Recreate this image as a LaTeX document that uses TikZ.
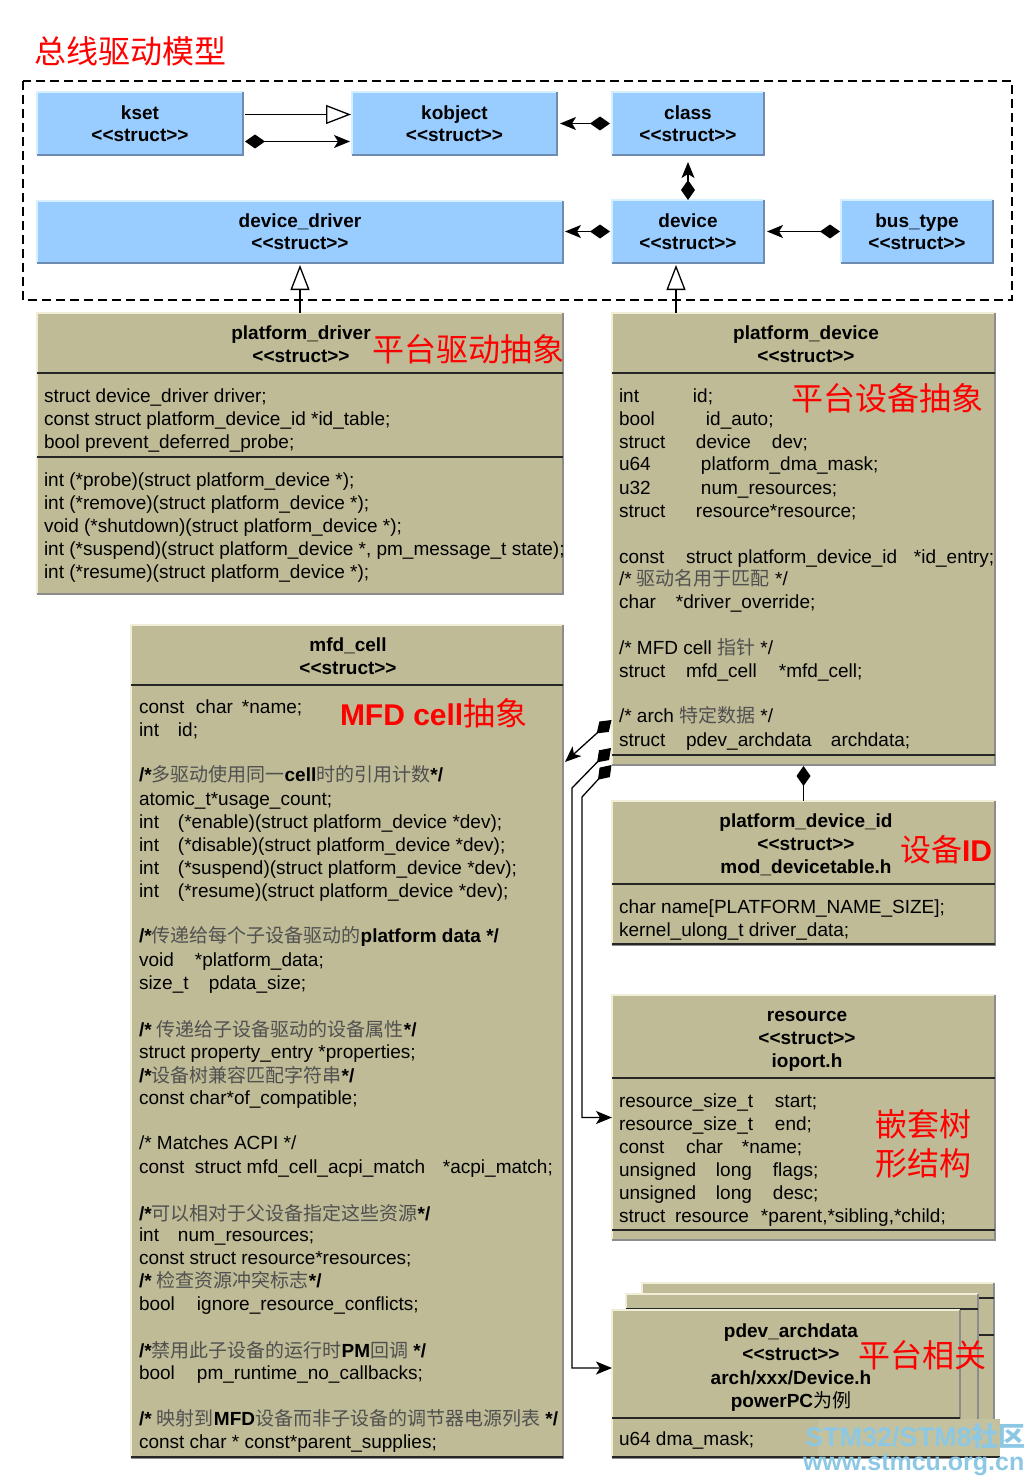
\documentclass[tikz,border=0pt]{standalone}
\usepackage{fontspec}
\setmainfont{Liberation Sans}
\newfontfamily\cjk{Noto Sans CJK SC}
\usetikzlibrary{arrows.meta}
\definecolor{kh}{RGB}{191,187,150}
\definecolor{bl}{RGB}{153,204,255}
\definecolor{cg}{RGB}{80,80,80}
\definecolor{wmc}{RGB}{140,200,228}
\newcommand\cz[1]{{\cjk\mdseries\fontsize{19}{23}\selectfont\color{cg}#1}}
\newcommand\mycol[2]{\makebox[#1pt][l]{#2}}
\newcommand\stt{<\kern0pt<struct>\kern0pt>}
\newcommand\bevel[3]{\draw[#2] (#1.south west) -- (#1.north west) -- (#1.north east); \draw[#3] (#1.north east) -- (#1.south east) -- (#1.south west);}
\newcommand\bbev[1]{\bevel{#1}{bhi}{blo}}
\newcommand\kbev[1]{\bevel{#1}{khi}{klo}}
\tikzset{
 every node/.style={inner sep=0pt, outer sep=0pt},
 bbox/.style={rectangle, fill=bl, align=center, font=\bfseries\fontsize{19}{22}\selectfont},
 kbox/.style={rectangle, fill=kh, anchor=north west},
 bhi/.style={line width=1.2pt, draw={rgb,255:red,215;green,240;blue,255}},
 blo/.style={line width=1.2pt, draw={rgb,255:red,110;green,140;blue,175}},
 khi/.style={line width=1.2pt, draw={rgb,255:red,240;green,238;blue,215}},
 klo/.style={line width=1.2pt, draw={rgb,255:red,140;green,140;blue,140}},
 sepl/.style={line width=1.6pt, draw=black!85},
 hd/.style={anchor=base, font=\bfseries\fontsize{19}{23}\selectfont},
 tx/.style={anchor=base west, font=\fontsize{19}{23}\selectfont},
 rl/.style={text=red, font=\cjk\fontsize{32}{36}\selectfont},
 conn/.style={line width=1.3pt},
 comp/.style={conn, {Diamond[length=20pt,width=14pt]}-{Stealth[length=16pt,width=13pt,inset=4pt]}},
 compn/.style={conn, {Diamond[length=20pt,width=14pt]}-},
 inh/.style={conn, -{Triangle[length=25pt,width=19pt,fill=white]}},
 frame/.style={line width=1.3pt, dash pattern=on 9pt off 5pt},
}
\begin{document}
\begin{tikzpicture}[x=1pt,y=-1pt]
\useasboundingbox (0,0) rectangle (1035,1482);

% title
\node[rl] (title) at (130,51) {总线驱动模型};

% dashed frame
\draw[frame] (23,81) rectangle (1012,300);

% blue boxes
\node[bbox, minimum width=206pt, minimum height=63pt] (kset) at (140,123.5) {kset\\\stt};
\node[bbox, minimum width=205pt, minimum height=63pt] (kobject) at (454.5,123.5) {kobject\\\stt};
\node[bbox, minimum width=152pt, minimum height=63pt] (class) at (688,123.5) {class\\\stt};
\node[bbox, minimum width=526pt, minimum height=62pt] (devdrv) at (300,232) {device\_driver\\\stt};
\node[bbox, minimum width=152pt, minimum height=63pt] (device) at (688,231.5) {device\\\stt};
\node[bbox, minimum width=152pt, minimum height=63pt] (bus) at (917,231.5) {bus\_type\\\stt};
\bbev{kset}\bbev{kobject}\bbev{class}\bbev{devdrv}\bbev{device}\bbev{bus}

% ---------- platform_driver
\node[kbox, minimum width=526pt, minimum height=281pt] (pdrv) at (37,313) {};
\kbev{pdrv}
\draw[sepl] (37,373) -- (563,373);
\draw[sepl] (37,457) -- (563,457);
\node[hd] (pdrvT) at (301,339) {platform\_driver};
\node[hd] (pdrvS) at (301,362) {\stt};
\node[rl] (pdrvR) at (468,349) {平台驱动抽象};
\node[tx] (pdrv1) at (44,402) {struct device\_driver driver;};
\node[tx] (pdrv2) at (44,425) {const struct platform\_device\_id *id\_table;};
\node[tx] (pdrv3) at (44,448) {bool prevent\_deferred\_probe;};
\node[tx] (pdrv4) at (44,486) {int (*probe)(struct platform\_device *);};
\node[tx] (pdrv5) at (44,509) {int (*remove)(struct platform\_device *);};
\node[tx] (pdrv6) at (44,532) {void (*shutdown)(struct platform\_device *);};
\node[tx] (pdrv7) at (44,555) {int (*suspend)(struct platform\_device *, pm\_message\_t state);};
\node[tx] (pdrv8) at (44,578) {int (*resume)(struct platform\_device *);};

% ---------- platform_device
\node[kbox, minimum width=383pt, minimum height=452pt] (pdev) at (612,313) {};
\kbev{pdev}
\draw[sepl] (612,373) -- (995,373);
\draw[sepl] (612,755) -- (995,755);
\node[hd] (pdevT) at (806,339) {platform\_device};
\node[hd] (pdevS) at (806,362) {\stt};
\node[rl] (pdevR) at (887,398) {平台设备抽象};
\node[tx] (pdev1) at (619,402) {\mycol{74}{int}id;};
\node[tx] (pdev2) at (619,425) {\mycol{87}{bool}id\_auto;};
\node[tx] (pdev3) at (619,448) {\mycol{77}{struct}\mycol{76}{device}dev;};
\node[tx] (pdev4) at (619,470) {\mycol{82}{u64}platform\_dma\_mask;};
\node[tx] (pdev5) at (619,494) {\mycol{82}{u32}num\_resources;};
\node[tx] (pdev6) at (619,517) {\mycol{77}{struct}resource*resource;};
\node[tx] (pdev7) at (619,563) {\mycol{67}{const}\mycol{228}{struct platform\_device\_id}*id\_entry;};
\node[tx] (pdev8) at (619,585) {/* \cz{驱动名用于匹配} */};
\node[tx] (pdev9) at (619,608) {\mycol{57}{char}*driver\_override;};
\node[tx] (pdev10) at (619,654) {/* MFD cell \cz{指针} */};
\node[tx] (pdev11) at (619,677) {\mycol{67}{struct}\mycol{93}{mfd\_cell}*mfd\_cell;};
\node[tx] (pdev12) at (619,722) {/* arch \cz{特定数据} */};
\node[tx] (pdev13) at (619,746) {\mycol{67}{struct}\mycol{145}{pdev\_archdata}archdata;};

% ---------- mfd_cell
\node[kbox, minimum width=432pt, minimum height=833pt] (mfd) at (131,625) {};
\kbev{mfd}
\draw[sepl] (131,685) -- (563,685);
\draw[sepl] (131,1457) -- (563,1457);
\node[hd] (mfdT) at (348,651) {mfd\_cell};
\node[hd] (mfdS) at (348,674) {\stt};
\node[anchor=base west, text=red] (mfdR) at (340,725) {{\bfseries\fontsize{30}{34}\selectfont MFD cell}{\cjk\fontsize{32}{34}\selectfont 抽象}};
\node[tx] (mfd1) at (139,713) {\mycol{57}{const}\mycol{46}{char}*name;};
\node[tx] (mfd2) at (139,736) {\mycol{39}{int}id;};
\node[tx] (mfd3) at (139,781) {\textbf{/*}\cz{多驱动使用同一}\textbf{cell}\cz{时的引用计数}\textbf{*/}};
\node[tx] (mfd4) at (139,805) {atomic\_t*usage\_count;};
\node[tx] (mfd5) at (139,828) {\mycol{39}{int}(*enable)(struct platform\_device *dev);};
\node[tx] (mfd6) at (139,851) {\mycol{39}{int}(*disable)(struct platform\_device *dev);};
\node[tx] (mfd7) at (139,874) {\mycol{39}{int}(*suspend)(struct platform\_device *dev);};
\node[tx] (mfd8) at (139,897) {\mycol{39}{int}(*resume)(struct platform\_device *dev);};
\node[tx] (mfd9) at (139,942) {\textbf{/*}\cz{传递给每个子设备驱动的}\textbf{platform data */}};
\node[tx] (mfd10) at (139,966) {\mycol{56}{void}*platform\_data;};
\node[tx] (mfd11) at (139,989) {\mycol{70}{size\_t}pdata\_size;};
\node[tx] (mfd12) at (139,1036) {\textbf{/*} \cz{传递给子设备驱动的设备属性}\textbf{*/}};
\node[tx] (mfd13) at (139,1058) {struct property\_entry *properties;};
\node[tx] (mfd14) at (139,1082) {\textbf{/*}\cz{设备树兼容匹配字符串}\textbf{*/}};
\node[tx] (mfd15) at (139,1104) {const char*of\_compatible;};
\node[tx] (mfd16) at (139,1149) {/* Matches ACPI */};
\node[tx] (mfd17) at (139,1173) {\mycol{56}{const}\mycol{248}{struct mfd\_cell\_acpi\_match}*acpi\_match;};
\node[tx] (mfd18) at (139,1220) {\textbf{/*}\cz{可以相对于父设备指定这些资源}\textbf{*/}};
\node[tx] (mfd19) at (139,1241) {\mycol{39}{int}num\_resources;};
\node[tx] (mfd20) at (139,1264) {const struct resource*resources;};
\node[tx] (mfd21) at (139,1287) {\textbf{/*} \cz{检查资源冲突标志}\textbf{*/}};
\node[tx] (mfd22) at (139,1310) {\mycol{58}{bool}ignore\_resource\_conflicts;};
\node[tx] (mfd23) at (139,1357) {\textbf{/*}\cz{禁用此子设备的运行时}\textbf{PM}\cz{回调} \textbf{*/}};
\node[tx] (mfd24) at (139,1379) {\mycol{58}{bool}pm\_runtime\_no\_callbacks;};
\node[tx] (mfd25) at (139,1425) {\textbf{/*} \cz{映射到}\textbf{MFD}\cz{设备而非子设备的调节器电源列表} \textbf{*/}};
\node[tx] (mfd26) at (139,1448) {const char * const*parent\_supplies;};

% ---------- platform_device_id
\node[kbox, minimum width=383pt, minimum height=144pt] (pdevid) at (612,801) {};
\kbev{pdevid}
\draw[sepl] (612,884) -- (995,884);
\draw[sepl] (612,944) -- (995,944);
\node[hd] (pidT) at (806,827) {platform\_device\_id};
\node[hd] (pidS) at (806,850) {\stt};
\node[hd] (pidH) at (806,873) {mod\_devicetable.h};
\node[anchor=center, text=red] (pidR) at (946,850) {{\cjk\fontsize{31}{34}\selectfont 设备}{\bfseries\fontsize{30}{34}\selectfont ID}};
\node[tx] (pid1) at (619,913) {char name[PLATFORM\_NAME\_SIZE];};
\node[tx] (pid2) at (619,936) {kernel\_ulong\_t driver\_data;};

% ---------- resource
\node[kbox, minimum width=383pt, minimum height=245pt] (res) at (612,995) {};
\kbev{res}
\draw[sepl] (612,1078) -- (995,1078);
\draw[sepl] (612,1230) -- (995,1230);
\node[hd] (resT) at (807,1021) {resource};
\node[hd] (resS) at (807,1044) {\stt};
\node[hd] (resH) at (807,1067) {ioport.h};
\node[rl] (resR1) at (923,1124) {嵌套树};
\node[rl] (resR2) at (923,1163) {形结构};
\node[tx] (res1) at (619,1107) {\mycol{156}{resource\_size\_t}start;};
\node[tx] (res2) at (619,1130) {\mycol{156}{resource\_size\_t}end;};
\node[tx] (res3) at (619,1153) {\mycol{67}{const}\mycol{56}{char}*name;};
\node[tx] (res4) at (619,1176) {\mycol{97}{unsigned}\mycol{57}{long}flags;};
\node[tx] (res5) at (619,1199) {\mycol{97}{unsigned}\mycol{57}{long}desc;};
\node[tx] (res6) at (619,1222) {\mycol{56}{struct}\mycol{86}{resource}*parent,*sibling,*child;};

% ---------- pdev_archdata (stacked)
\node[kbox, minimum width=352pt, minimum height=162pt] (archC) at (642,1283) {};
\kbev{archC}
\draw[sepl] (642,1298) -- (994,1298);
\draw[sepl] (642,1335) -- (994,1335);
\node[kbox, minimum width=352pt, minimum height=158pt] (archB) at (626,1294) {};
\kbev{archB}
\draw[sepl] (626,1309) -- (978,1309);
\node[kbox, minimum width=348pt, minimum height=148pt] (arch) at (612,1310) {};
\kbev{arch}
\draw[sepl] (612,1418) -- (960,1418);
\draw[sepl] (612,1457) -- (1000,1457);
\node[hd] (archT) at (791,1337) {pdev\_archdata};
\node[hd] (archS) at (791,1360) {\stt};
\node[hd] (archH) at (791,1384) {arch/xxx/Device.h};
\node[hd] (archP) at (791,1407) {powerPC{\cjk\mdseries 为例}};
\node[rl] (archR) at (922,1355) {平台相关};
\node[tx] (arch1) at (619,1445) {u64 dma\_mask;};

% watermark
\fill[kh!92!white] (818,1419) rectangle (1000,1456);
\node[anchor=base west, text=wmc, font=\bfseries\fontsize{27}{30}\selectfont] (wm1) at (805,1446) {STM32/STM8{\cjk 社区}};
\node[anchor=base west, text=wmc, font=\bfseries\fontsize{25}{30}\selectfont] (wm2) at (803,1470) {www.stmcu.org.cn};

% ---------- connectors
\draw[inh, shorten <=2pt, shorten >=1pt] ([yshift=9pt]kset.east) -- ([yshift=9pt]kobject.west);
\draw[comp, shorten <=2pt, shorten >=2pt] ([yshift=-18pt]kset.east) -- ([yshift=-18pt]kobject.west);
\draw[comp, shorten <=2pt, shorten >=3pt] (class.west) -- (kobject.east);
\draw[comp, shorten >=7pt] (device.north) -- (class.south);
\draw[comp, shorten <=2pt, shorten >=2pt] (device.west) -- (device.west -| devdrv.east);
\draw[comp, shorten <=1pt, shorten >=3pt] (bus.west) -- (device.east);
\draw[inh, shorten >=2pt] (pdrv.north) -- (devdrv.south);
\coordinate (dvin) at ([xshift=-12pt]device.south);
\draw[inh, shorten >=2pt] (dvin |- pdev.north) -- (dvin);
\draw[compn, shorten <=1pt] (pdev.south) -- (pdevid.north);

\coordinate (s1) at (611.5,720);
\coordinate (e1) at (565,762);
\draw[comp] (s1) -- (e1);
\coordinate (s2) at (611,748);
\coordinate (b2) at (572,788);
\coordinate (a2) at ([yshift=16pt]arch.west);
\draw[comp] (s2) -- (b2) -- (b2 |- a2) -- (a2);
\coordinate (s3) at (611.5,765);
\coordinate (b3) at (582,797);
\draw[comp] (s3) -- (b3) -- (b3 |- res.west) -- (res.west);

\end{tikzpicture}
\end{document}
